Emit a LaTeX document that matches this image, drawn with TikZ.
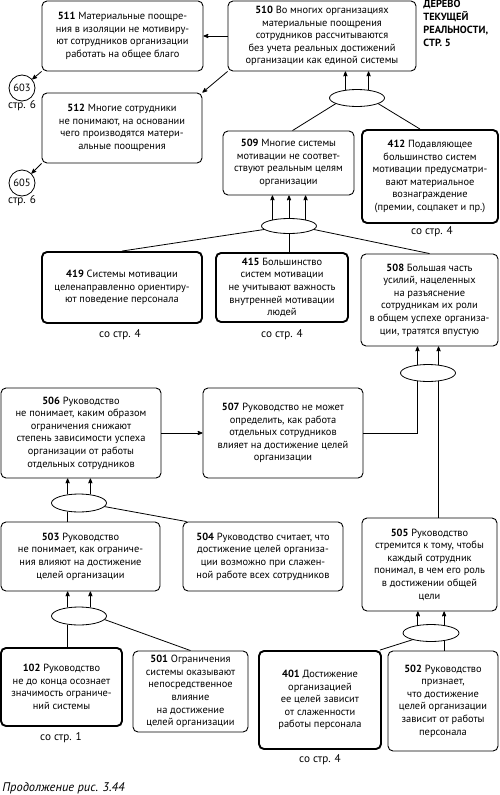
\documentclass[tikz,border=0pt]{standalone}
\usepackage{fontspec}
\setmainfont{PT Sans}
\usetikzlibrary{arrows}
\usetikzlibrary{shapes.geometric}

\tikzset{
 box/.style={draw, line width=.9pt, rounded corners=5pt, align=center, inner sep=1pt, font=\fontsize{10.4}{12.6}\selectfont},
 boldbox/.style={box, line width=1.9pt},
 knot/.style={draw, line width=.8pt, ellipse, inner sep=0pt, minimum width=55pt, minimum height=17pt},
 pageref/.style={draw, line width=.8pt, circle, minimum size=26pt, inner sep=0pt, font=\fontsize{10.5}{11}\selectfont},
 note/.style={inner sep=1pt, font=\fontsize{11.2}{12}\selectfont},
}

\begin{document}
\begin{tikzpicture} [x=1pt, y=-1pt, >=stealth', line width=.8pt]
\useasboundingbox (0,0) rectangle (500,795);

% top row
\node[box, minimum width=161pt, minimum height=70pt] (n511) at (122.5,36) {\textbf{511} Материальные поощре-\\ния в изоляции не мотивиру-\\ют сотрудников организации\\работать на общее благо};
\node[box, minimum width=188pt, minimum height=70pt] (n510) at (322,36) {\textbf{510} Во многих организациях\\материальные поощрения\\сотрудников рассчитываются\\без учета реальных достижений\\организации как единой системы};
\node[anchor=north west, align=left, inner sep=0pt, font=\bfseries\fontsize{10.4}{12.8}\selectfont] (title) at (423,0) {ДЕРЕВО\\ТЕКУЩЕЙ\\РЕАЛЬНОСТИ,\\СТР. 5};
\node[box, minimum width=160pt, minimum height=70pt] (n512) at (122,128) {\textbf{512} Многие сотрудники\\не понимают, на основании\\чего производятся матери-\\альные поощрения};

\node[pageref] (c603) at (22,88) {603};
\node[note] (s603) at (22,106) {стр. 6};
\node[pageref] (c605) at (22,183) {605};
\node[note] (s605) at (22,201) {стр. 6};

\draw[->] (n510.west) -- (n511.east);
\draw[->] (n510.south west) -- (n512.north east);
\draw[->] (n511.south west) -- (c603);
\draw[->] (n512.south west) -- (c605);

% 509 and 412
\node[knot] (e510) at (357,98) {};
\node[box, minimum width=131pt, minimum height=64pt] (n509) at (288.5,163) {\textbf{509} Многие системы\\мотивации не соответ-\\ствуют реальным целям\\организации};
\node[boldbox, minimum width=136pt, minimum height=93pt] (n412) at (430,176.5) {\textbf{412} Подавляющее\\большинство систем\\мотивации предусматри-\\вают материальное\\вознаграждение\\(премии, соцпакет и пр.)};
\node[note] (s412) at (432,232) {со стр. 4};
\foreach \a in {145,35}
 \draw[->] (e510.\a) -- (e510.\a |- n510.south);
\draw (e510.195) -- ([xshift=4pt]n509.north);
\draw (e510.345) -- ([xshift=-10pt]n412.north);

% 419, 415, 508
\node[knot, minimum height=15pt] (e509) at (289,226) {};
\node[boldbox, minimum width=160pt, minimum height=71pt] (n419) at (122,287.5) {\textbf{419} Системы мотивации\\целенаправленно ориентиру-\\ют поведение персонала};
\node[note] (s419) at (120,335) {со стр. 4};
\node[boldbox, minimum width=132pt, minimum height=69pt] (n415) at (282,287.5) {\textbf{415} Большинство\\систем мотивации\\не учитывают важность\\внутренней мотивации\\людей};
\node[note] (s415) at (282,335) {со стр. 4};
\node[box, minimum width=137pt, minimum height=92pt] (n508) at (429.5,300) {\textbf{508} Большая часть\\усилий, нацеленных\\на разъяснение\\сотрудникам их роли\\в общем успехе организа-\\ции, тратятся впустую};
\foreach \a in {159,90,21}
 \draw[->] (e509.\a) -- (e509.\a |- n509.south);
\draw (e509.188) -- (n419.north);
\draw (e509.south) -- (e509.south |- n415.north);
\draw (e509.352) -- (n508.north);

% 506 and 507
\node[box, minimum width=160pt, minimum height=90pt] (n506) at (81,433) {\textbf{506} Руководство\\не понимает, каким образом\\ограничения снижают\\степень зависимости успеха\\организации от работы\\отдельных сотрудников};
\node[box, minimum width=160pt, minimum height=90pt] (n507) at (283,433) {\textbf{507} Руководство не может\\определить, как работа\\отдельных сотрудников\\влияет на достижение целей\\организации};
\draw[->] (n506.east) -- (n507.west);

\node[knot] (e508) at (428,373) {};
\foreach \a in {142,38}
 \draw[->] (e508.\a) -- (e508.\a |- n508.south);
\draw (e508.218) |- (n507.east);

% 503, 504, 505
\node[knot, minimum height=18pt] (e506) at (79,503) {};
\node[box, minimum width=159pt, minimum height=69pt] (n503) at (80.5,556.5) {\textbf{503} Руководство\\не понимает, как ограниче-\\ния влияют на достижение\\целей организации};
\node[box, minimum width=160pt, minimum height=69pt] (n504) at (263,556.5) {\textbf{504} Руководство считает, что\\достижение целей организа-\\ции возможно при слажен-\\ной работе всех сотрудников};
\node[box, minimum width=135pt, minimum height=93pt] (n505) at (429.5,564.5) {\textbf{505} Руководство\\стремится к тому, чтобы\\каждый сотрудник\\понимал, в чем его роль\\в достижении общей\\цели};
\foreach \a in {143,37}
 \draw[->] (e506.\a) -- (e506.\a |- n506.south);
\draw (e506.217) -- (e506.217 |- n503.north);
\draw (e506.352) -- ([xshift=4pt]n504.north west);
\draw (e508.322) -- (e508.322 |- n505.north);

% bottom row
\node[knot, minimum height=18pt] (e503) at (79,616) {};
\node[boldbox, minimum width=121pt, minimum height=78pt] (n102) at (61.5,687) {\textbf{102} Руководство\\не до конца осознает\\значимость ограниче-\\ний системы};
\node[note] (s102) at (61,738) {со стр. 1};
\node[box, minimum width=115pt, minimum height=81pt] (n501) at (190.5,691.5) {\textbf{501} Ограничения\\системы оказывают\\непосредственное\\влияние\\на достижение\\целей организации};
\foreach \a in {143,37}
 \draw[->] (e503.\a) -- (e503.\a |- n503.south);
\draw (e503.217) -- (e503.217 |- n102.north);
\draw (e503.352) -- (n501.north);

\node[knot, minimum width=56pt] (e505) at (431,633) {};
\node[boldbox, minimum width=122pt, minimum height=98pt] (n401) at (320,700) {\textbf{401} Достижение\\организацией\\ее целей зависит\\от слаженности\\работы персонала};
\node[note] (s401) at (320,760) {со стр. 4};
\node[box, minimum width=110pt, minimum height=100pt] (n502) at (443,701) {\textbf{502} Руководство\\признает,\\что достижение\\целей организации\\зависит от работы\\персонала};
\foreach \a in {149,31}
 \draw[->] (e505.\a) -- (e505.\a |- n505.south);
\draw (e505.200) -- ([xshift=-2pt]n401.north east);
\draw (e505.329) -- (e505.329 |- n502.north);

\node[anchor=west, inner sep=0pt, font=\itshape\fontsize{12.5}{14}\selectfont] (caption) at (2,788) {Продолжение рис. 3.44};
\end{tikzpicture}
\end{document}
